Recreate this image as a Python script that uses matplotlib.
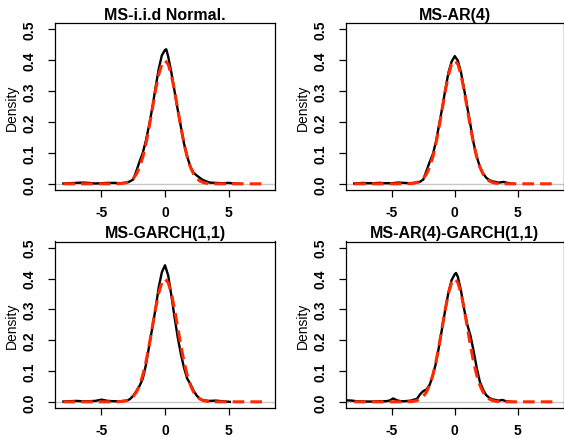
import matplotlib
matplotlib.use("Agg")
import matplotlib.pyplot as plt

plt.rcParams['font.family'] = ['Liberation Sans', 'DejaVu Sans']

titles = ["MS-i.i.d Normal.", "MS-AR(4)", "MS-GARCH(1,1)", "MS-AR(4)-GARCH(1,1)"]

x_iid = [-8.0, -7.5, -7.0, -6.5, -6.0, -5.5, -5.0, -4.5, -4.0, -3.5, -3.0, -2.75, -2.5, -2.25,
         -2.0, -1.75, -1.5, -1.25, -1.0, -0.75, -0.5, -0.25, 0.0, 0.1, 0.25, 0.5, 0.75, 1.0,
         1.25, 1.5, 1.75, 2.0, 2.25, 2.5, 2.75, 3.0, 3.5, 4.0, 4.5, 5.0, 5.5, 5.9]
y_iid = [0.001, 0.002, 0.003, 0.004, 0.003, 0.001, 0.002, 0.003, 0.003, 0.002, 0.004, 0.008,
         0.014, 0.042, 0.072, 0.1, 0.14, 0.19, 0.245, 0.31, 0.37, 0.415, 0.433, 0.435, 0.412,
         0.36, 0.3, 0.24, 0.185, 0.13, 0.088, 0.055, 0.036, 0.027, 0.019, 0.012, 0.004, 0.003,
         0.002, 0.003, 0.001, 0.0]

x_ar = [-8.0, -7.6, -7.3, -7.0, -6.5, -6.0, -5.5, -5.0, -4.5, -4.0, -3.5, -3.0, -2.75, -2.5,
        -2.25, -2.0, -1.75, -1.5, -1.25, -1.0, -0.75, -0.5, -0.25, 0.0, 0.25, 0.5, 0.75, 1.0,
        1.25, 1.5, 1.75, 2.0, 2.25, 2.5, 2.75, 3.0, 3.5, 3.9, 4.2, 4.7]
y_ar = [0.001, 0.002, 0.003, 0.002, 0.002, 0.003, 0.002, 0.002, 0.004, 0.003, 0.002, 0.004,
        0.007, 0.014, 0.042, 0.07, 0.095, 0.135, 0.19, 0.245, 0.305, 0.36, 0.395, 0.413, 0.398,
        0.36, 0.305, 0.248, 0.19, 0.132, 0.088, 0.055, 0.034, 0.02, 0.012, 0.008, 0.004, 0.006,
        0.003, 0.0]

x_garch = [-8.0, -7.5, -7.0, -6.5, -6.0, -5.5, -5.0, -4.5, -4.0, -3.5, -3.0, -2.75, -2.5,
           -2.25, -2.0, -1.75, -1.5, -1.25, -1.0, -0.75, -0.5, -0.25, 0.0, 0.25, 0.5, 0.75,
           1.0, 1.25, 1.5, 1.75, 2.0, 2.25, 2.5, 2.75, 3.0, 3.5, 4.0, 4.5, 5.1]
y_garch = [0.001, 0.002, 0.003, 0.002, 0.002, 0.003, 0.007, 0.003, 0.002, 0.002, 0.004, 0.009,
           0.02, 0.035, 0.052, 0.075, 0.12, 0.18, 0.24, 0.3, 0.37, 0.42, 0.443, 0.41, 0.345,
           0.275, 0.21, 0.155, 0.11, 0.075, 0.058, 0.036, 0.02, 0.01, 0.005, 0.003, 0.004, 0.002,
           0.0]

x_argarch = [-8.66, -8.2, -7.8, -7.0, -6.5, -6.0, -5.5, -5.2, -4.9, -4.6, -4.3, -4.0, -3.5, -3.0,
             -2.75, -2.5, -2.25, -2.0, -1.75, -1.5, -1.25, -1.0, -0.75, -0.5, -0.25, 0.0, 0.1,
             0.25, 0.5, 0.75, 1.0, 1.25, 1.5, 1.75, 2.0, 2.25, 2.5, 2.75, 3.0, 3.5, 3.8, 4.1, 4.5]
y_argarch = [0.005, 0.004, 0.002, 0.001, 0.001, 0.002, 0.002, 0.004, 0.011, 0.005, 0.002, 0.002,
             0.004, 0.01, 0.025, 0.035, 0.04, 0.055, 0.085, 0.125, 0.18, 0.24, 0.3, 0.355, 0.395,
             0.414, 0.418, 0.405, 0.36, 0.3, 0.25, 0.215, 0.165, 0.11, 0.065, 0.04, 0.022, 0.013,
             0.008, 0.004, 0.006, 0.002, 0.0]

# Reference standard normal density (red dashed)
x_ref = [-8.0, -4.0, -3.75, -3.5, -3.25, -3.0, -2.75, -2.5, -2.25, -2.0, -1.75, -1.5, -1.25,
         -1.0, -0.75, -0.5, -0.25, 0.0, 0.25, 0.5, 0.75, 1.0, 1.25, 1.5, 1.75, 2.0, 2.25, 2.5,
         2.75, 3.0, 3.25, 3.5, 3.75, 4.0, 8.0]
y_ref = [0.0, 0.0001, 0.0004, 0.0009, 0.002, 0.0044, 0.0091, 0.0175, 0.0317, 0.054, 0.0863,
         0.1295, 0.1826, 0.242, 0.3011, 0.3521, 0.3867, 0.3989, 0.3867, 0.3521, 0.3011, 0.242,
         0.1826, 0.1295, 0.0863, 0.054, 0.0317, 0.0175, 0.0091, 0.0044, 0.002, 0.0009, 0.0004,
         0.0001, 0.0]

x_ticks = [-5, 0, 5]
y_ticks = [0.0, 0.1, 0.2, 0.3, 0.4, 0.5]
y_ticklabels = ["0.0", "0.1", "0.2", "0.3", "0.4", "0.5"]

series = [(x_iid, y_iid), (x_ar, y_ar), (x_garch, y_garch), (x_argarch, y_argarch)]

W, H = 564, 439
fig = plt.figure(figsize=(W / 100, H / 100), dpi=100)

# panel boxes in pixels: (left, top, right, bottom)
boxes = [(55, 24, 275, 191), (346, 24, 563.5, 191),
         (55, 242.5, 275, 409), (346, 242.5, 563.5, 409)]

for (l, t, r, b), title, (xs, ys) in zip(boxes, titles, series):
    ax = fig.add_axes([l / W, 1 - b / H, (r - l) / W, (b - t) / H])
    ax.axhline(0, color="#c8c8c8", lw=1.0, zorder=1)
    ax.plot(xs, ys, color="black", lw=1.7, zorder=2, solid_joinstyle="round")
    ax.plot(x_ref, y_ref, color="#ff2a00", lw=2.2, ls=(0, (3.8, 2.0)), zorder=3)
    ax.set_xlim(-8.66, 8.66)
    ax.set_ylim(-0.02, 0.52)
    ax.set_xticks(x_ticks)
    ax.set_xticklabels([str(v) if v >= 0 else "-" + str(-v) for v in x_ticks],
                       fontsize=10, fontweight="bold")
    ax.set_yticks(y_ticks)
    ax.set_yticklabels(y_ticklabels, fontsize=10, fontweight="bold",
                       rotation=90, va="center", ha="right")
    ax.tick_params(axis="both", direction="out", length=5, width=0.9, color="black")
    ax.tick_params(axis="x", pad=6)
    ax.tick_params(axis="y", pad=8)
    for s in ax.spines.values():
        s.set_linewidth(0.9)
    ax.set_ylabel("Density", fontsize=10, labelpad=3)
    ax.set_title(title, fontsize=11.5, fontweight="bold", pad=3)

fig.savefig("out.png", dpi=100)
